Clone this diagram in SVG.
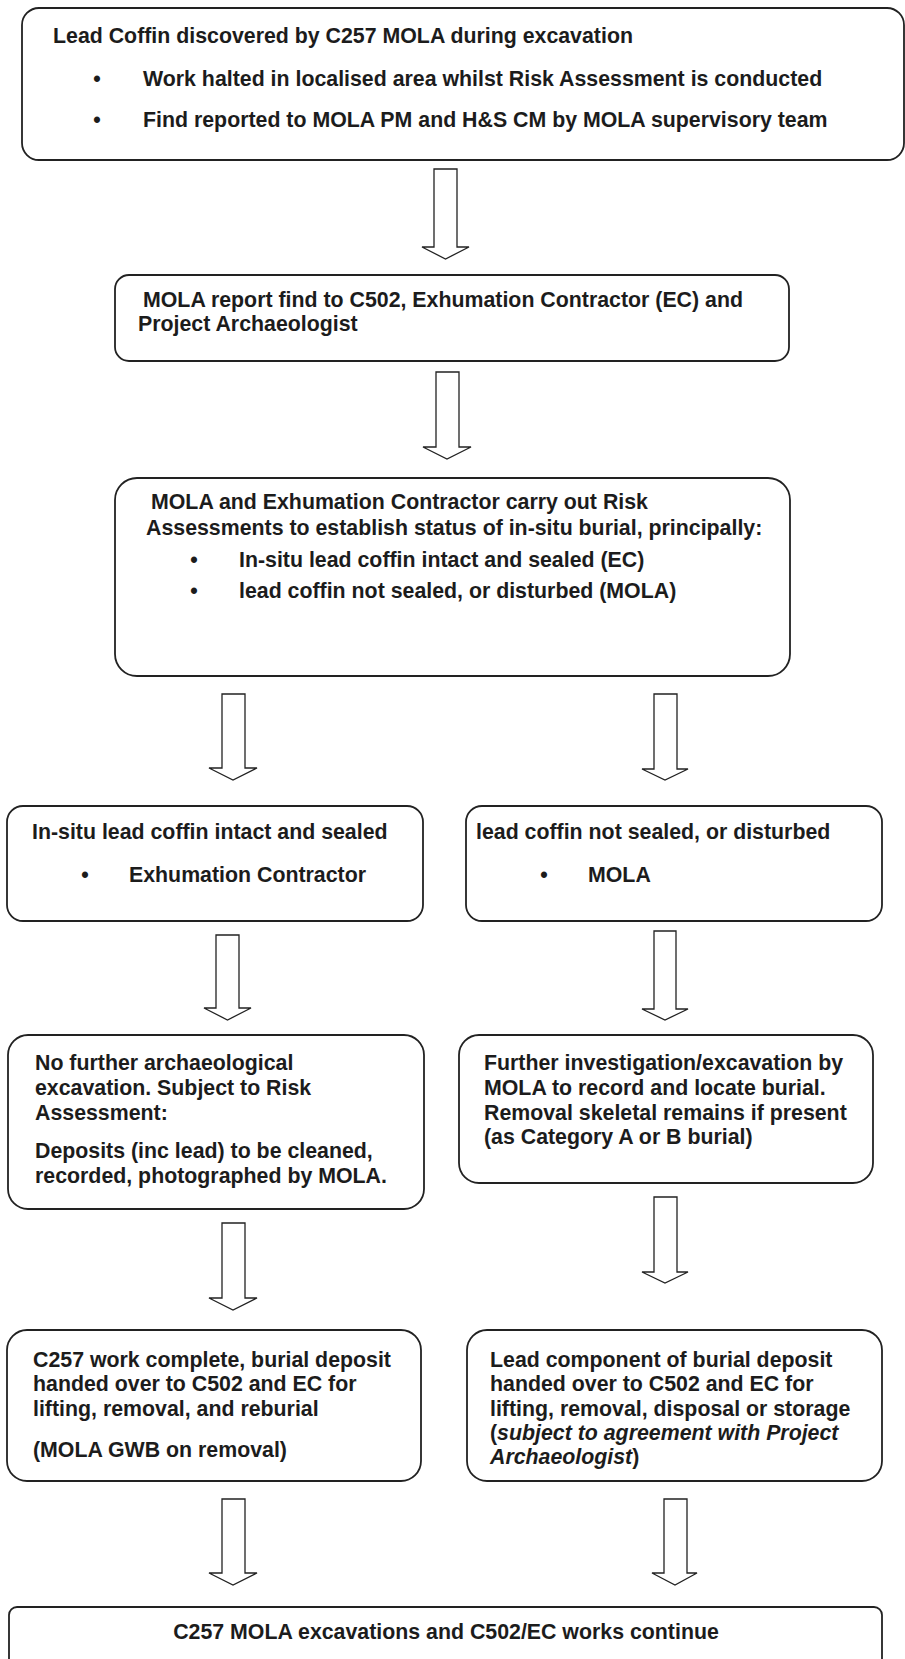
<svg xmlns="http://www.w3.org/2000/svg" width="905" height="1659" viewBox="0 0 905 1659">
<style>
.box{fill:#fff;stroke:#222;stroke-width:1.8}
.arr{fill:#fff;stroke:#222;stroke-width:1.3;stroke-linejoin:miter}
text{font-family:"Liberation Sans",Arial,sans-serif;font-weight:bold;font-size:21.33px;fill:#1c1c1c}
.b{text-anchor:middle}
.i{font-style:italic}
</style>
<rect width="905" height="1659" fill="#fff"/>
<g id="connectors">
<polygon class="arr" points="434,169 457,169 457,247 469,247 445.5,259 422,247 434,247"/>
<polygon class="arr" points="436,372 459,372 459,447 471,447 447,459 423,447 436,447"/>
<polygon class="arr" points="222,694 245,694 245,768 257,768 233,780 209,768 222,768"/>
<polygon class="arr" points="654,694 677,694 677,769 688,769 665,780 642,769 654,769"/>
<polygon class="arr" points="216,935 239,935 239,1008 251,1008 227.5,1020 204,1008 216,1008"/>
<polygon class="arr" points="654,931 676,931 676,1009 688,1009 665,1020 642,1009 654,1009"/>
<polygon class="arr" points="222,1223 245,1223 245,1298 257,1298 233,1310 209,1298 222,1298"/>
<polygon class="arr" points="654,1197 677,1197 677,1272 688,1272 665,1283 642,1272 654,1272"/>
<polygon class="arr" points="222,1499 245,1499 245,1573 257,1573 233,1585 209,1573 222,1573"/>
<polygon class="arr" points="664,1499 687,1499 687,1573 697,1573 675,1585 652,1573 664,1573"/>
</g>
<g id="n1">
<rect class="box" x="22" y="8" width="882" height="152" rx="17"/>
<text x="53" y="43">Lead Coffin discovered by C257 MOLA during excavation</text>
<text class="b" x="97" y="86">•</text>
<text x="143" y="86">Work halted in localised area whilst Risk Assessment is conducted</text>
<text class="b" x="97" y="127">•</text>
<text x="143" y="127">Find reported to MOLA PM and H&amp;S CM by MOLA supervisory team</text>
</g>
<g id="n2">
<rect class="box" x="115" y="275" width="674" height="86" rx="14"/>
<text x="143" y="307">MOLA report find to C502, Exhumation Contractor (EC) and</text>
<text x="138" y="331">Project Archaeologist</text>
</g>
<g id="n3">
<rect class="box" x="115" y="478" width="675" height="198" rx="22"/>
<text x="151" y="509">MOLA and Exhumation Contractor carry out Risk</text>
<text x="146" y="535">Assessments to establish status of in-situ burial, principally:</text>
<text class="b" x="194" y="567">•</text>
<text x="239" y="567">In-situ lead coffin intact and sealed (EC)</text>
<text class="b" x="194" y="598">•</text>
<text x="239" y="598">lead coffin not sealed, or disturbed (MOLA)</text>
</g>
<g id="n4">
<rect class="box" x="7" y="806" width="416" height="115" rx="16"/>
<text x="32" y="839">In-situ lead coffin intact and sealed</text>
<text class="b" x="85" y="882">•</text>
<text x="129" y="882">Exhumation Contractor</text>
</g>
<g id="n5">
<rect class="box" x="466" y="806" width="416" height="115" rx="16"/>
<text x="476" y="839">lead coffin not sealed, or disturbed</text>
<text class="b" x="544" y="882">•</text>
<text x="588" y="882">MOLA</text>
</g>
<g id="n6">
<rect class="box" x="8" y="1035" width="416" height="174" rx="20"/>
<text x="35" y="1070">No further archaeological</text>
<text x="35" y="1095">excavation. Subject to Risk</text>
<text x="35" y="1120">Assessment:</text>
<text x="35" y="1158">Deposits (inc lead) to be cleaned,</text>
<text x="35" y="1183">recorded, photographed by MOLA.</text>
</g>
<g id="n7">
<rect class="box" x="459" y="1035" width="414" height="148" rx="20"/>
<text x="484" y="1070">Further investigation/excavation by</text>
<text x="484" y="1095">MOLA to record and locate burial.</text>
<text x="484" y="1120">Removal skeletal remains if present</text>
<text x="484" y="1144">(as Category A or B burial)</text>
</g>
<g id="n8">
<rect class="box" x="7" y="1330" width="414" height="151" rx="20"/>
<text x="33" y="1367">C257 work complete, burial deposit</text>
<text x="33" y="1391">handed over to C502 and EC for</text>
<text x="33" y="1416">lifting, removal, and reburial</text>
<text x="33" y="1457">(MOLA GWB on removal)</text>
</g>
<g id="n9">
<rect class="box" x="467" y="1330" width="415" height="151" rx="20"/>
<text x="490" y="1367">Lead component of burial deposit</text>
<text x="490" y="1391">handed over to C502 and EC for</text>
<text x="490" y="1416">lifting, removal, disposal or storage</text>
<text x="490" y="1440">(<tspan class="i">subject to agreement with Project</tspan></text>
<text x="490" y="1464"><tspan class="i">Archaeologist</tspan>)</text>
</g>
<g id="n10">
<rect class="box" x="9" y="1607" width="873" height="80" rx="8"/>
<text class="b" x="446" y="1639">C257 MOLA excavations and C502/EC works continue</text>
</g>
</svg>
